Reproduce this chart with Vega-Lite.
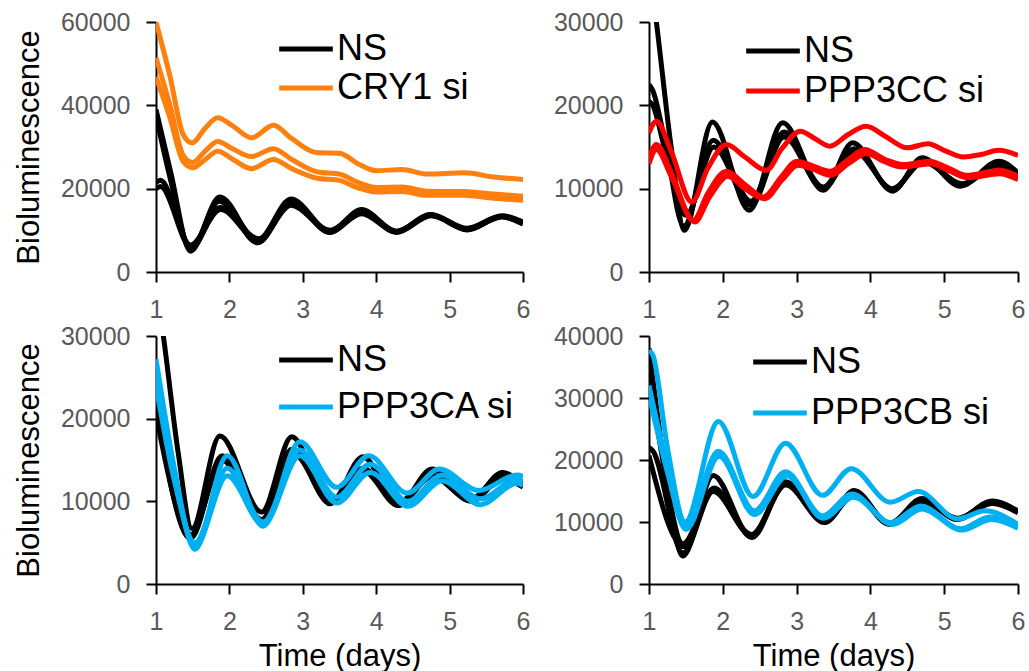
{
"$schema": "https://vega.github.io/schema/vega-lite/v6.json",
"padding": {"left": 13, "top": 10, "right": 0, "bottom": 0},
"config": {
  "font": "Liberation Sans",
  "view": {"stroke": null},
  "axis": {"domainColor": "#000000", "domainWidth": 2, "tickColor": "#000000", "tickWidth": 2, "tickSize": 10, "grid": false, "labelColor": "#595959", "labelFontSize": 25, "labelFont": "Liberation Sans", "titleFont": "Liberation Sans", "titleFontSize": 31, "titleFontWeight": "normal", "titleColor": "#000000", "labelOverlap": false, "labelBound": false, "labelFlush": false},
  "axisX": {"labelPadding": 15, "titlePadding": 7},
  "axisY": {"labelPadding": 16, "titlePadding": 15},
  "legend": {"symbolType": "M-1.45,0H1.45", "symbolSize": 1369, "symbolStrokeWidth": 5, "labelFontSize": 36, "labelColor": "#000000", "labelFont": "Liberation Sans", "labelOffset": 10, "padding": 0, "labelLimit": 0}
},
"data": {"values": [
{"p":"A","g":"NS","r":"n1","t":1,"v":39000},{"p":"A","g":"NS","r":"n1","t":1.2,"v":24000},{"p":"A","g":"NS","r":"n1","t":1.47,"v":5000},{"p":"A","g":"NS","r":"n1","t":1.87,"v":18000},{"p":"A","g":"NS","r":"n1","t":2.38,"v":7500},{"p":"A","g":"NS","r":"n1","t":2.84,"v":17500},{"p":"A","g":"NS","r":"n1","t":3.37,"v":9800},{"p":"A","g":"NS","r":"n1","t":3.8,"v":15000},{"p":"A","g":"NS","r":"n1","t":4.28,"v":9700},{"p":"A","g":"NS","r":"n1","t":4.74,"v":13800},{"p":"A","g":"NS","r":"n1","t":5.24,"v":10200},{"p":"A","g":"NS","r":"n1","t":5.71,"v":13400},{"p":"A","g":"NS","r":"n1","t":6,"v":11800},
{"p":"A","g":"NS","r":"n2","t":1,"v":21500},{"p":"A","g":"NS","r":"n2","t":1.06,"v":22000},{"p":"A","g":"NS","r":"n2","t":1.47,"v":6500},{"p":"A","g":"NS","r":"n2","t":1.88,"v":15000},{"p":"A","g":"NS","r":"n2","t":2.4,"v":7500},{"p":"A","g":"NS","r":"n2","t":2.85,"v":16500},{"p":"A","g":"NS","r":"n2","t":3.37,"v":9600},{"p":"A","g":"NS","r":"n2","t":3.8,"v":14000},{"p":"A","g":"NS","r":"n2","t":4.28,"v":9500},{"p":"A","g":"NS","r":"n2","t":4.75,"v":13500},{"p":"A","g":"NS","r":"n2","t":5.24,"v":10300},{"p":"A","g":"NS","r":"n2","t":5.72,"v":13200},{"p":"A","g":"NS","r":"n2","t":6,"v":11500},
{"p":"A","g":"NS","r":"n3","t":1,"v":20000},{"p":"A","g":"NS","r":"n3","t":1.06,"v":20500},{"p":"A","g":"NS","r":"n3","t":1.48,"v":5800},{"p":"A","g":"NS","r":"n3","t":1.87,"v":15500},{"p":"A","g":"NS","r":"n3","t":2.4,"v":8000},{"p":"A","g":"NS","r":"n3","t":2.84,"v":16000},{"p":"A","g":"NS","r":"n3","t":3.37,"v":10000},{"p":"A","g":"NS","r":"n3","t":3.8,"v":14500},{"p":"A","g":"NS","r":"n3","t":4.28,"v":9800},{"p":"A","g":"NS","r":"n3","t":4.74,"v":13800},{"p":"A","g":"NS","r":"n3","t":5.24,"v":10500},{"p":"A","g":"NS","r":"n3","t":5.71,"v":13500},{"p":"A","g":"NS","r":"n3","t":6,"v":12000},
{"p":"A","g":"NS","r":"n4","t":1,"v":37500},{"p":"A","g":"NS","r":"n4","t":1.2,"v":22000},{"p":"A","g":"NS","r":"n4","t":1.47,"v":5500},{"p":"A","g":"NS","r":"n4","t":1.86,"v":17000},{"p":"A","g":"NS","r":"n4","t":2.39,"v":7000},{"p":"A","g":"NS","r":"n4","t":2.83,"v":17000},{"p":"A","g":"NS","r":"n4","t":3.37,"v":9500},{"p":"A","g":"NS","r":"n4","t":3.8,"v":14800},{"p":"A","g":"NS","r":"n4","t":4.28,"v":9600},{"p":"A","g":"NS","r":"n4","t":4.74,"v":13600},{"p":"A","g":"NS","r":"n4","t":5.24,"v":10100},{"p":"A","g":"NS","r":"n4","t":5.71,"v":13300},{"p":"A","g":"NS","r":"n4","t":6,"v":11600},
{"p":"A","g":"CRY1 si","r":"c1","t":1,"v":60000},{"p":"A","g":"CRY1 si","r":"c1","t":1.19,"v":47000},{"p":"A","g":"CRY1 si","r":"c1","t":1.37,"v":33000},{"p":"A","g":"CRY1 si","r":"c1","t":1.49,"v":31000},{"p":"A","g":"CRY1 si","r":"c1","t":1.67,"v":34500},{"p":"A","g":"CRY1 si","r":"c1","t":1.84,"v":37000},{"p":"A","g":"CRY1 si","r":"c1","t":2.05,"v":35000},{"p":"A","g":"CRY1 si","r":"c1","t":2.3,"v":32200},{"p":"A","g":"CRY1 si","r":"c1","t":2.6,"v":35200},{"p":"A","g":"CRY1 si","r":"c1","t":2.85,"v":32000},{"p":"A","g":"CRY1 si","r":"c1","t":3.2,"v":28600},{"p":"A","g":"CRY1 si","r":"c1","t":3.5,"v":28500},{"p":"A","g":"CRY1 si","r":"c1","t":3.75,"v":26000},{"p":"A","g":"CRY1 si","r":"c1","t":4,"v":24300},{"p":"A","g":"CRY1 si","r":"c1","t":4.35,"v":24600},{"p":"A","g":"CRY1 si","r":"c1","t":4.7,"v":23500},{"p":"A","g":"CRY1 si","r":"c1","t":5.2,"v":23800},{"p":"A","g":"CRY1 si","r":"c1","t":5.6,"v":22800},{"p":"A","g":"CRY1 si","r":"c1","t":6,"v":22200},
{"p":"A","g":"CRY1 si","r":"c2","t":1,"v":51400},{"p":"A","g":"CRY1 si","r":"c2","t":1.19,"v":40000},{"p":"A","g":"CRY1 si","r":"c2","t":1.37,"v":28000},{"p":"A","g":"CRY1 si","r":"c2","t":1.5,"v":26300},{"p":"A","g":"CRY1 si","r":"c2","t":1.67,"v":29000},{"p":"A","g":"CRY1 si","r":"c2","t":1.84,"v":31300},{"p":"A","g":"CRY1 si","r":"c2","t":2.05,"v":29500},{"p":"A","g":"CRY1 si","r":"c2","t":2.3,"v":27700},{"p":"A","g":"CRY1 si","r":"c2","t":2.6,"v":29600},{"p":"A","g":"CRY1 si","r":"c2","t":2.85,"v":27000},{"p":"A","g":"CRY1 si","r":"c2","t":3.2,"v":24000},{"p":"A","g":"CRY1 si","r":"c2","t":3.5,"v":23500},{"p":"A","g":"CRY1 si","r":"c2","t":3.75,"v":21500},{"p":"A","g":"CRY1 si","r":"c2","t":4,"v":20300},{"p":"A","g":"CRY1 si","r":"c2","t":4.35,"v":20400},{"p":"A","g":"CRY1 si","r":"c2","t":4.7,"v":19400},{"p":"A","g":"CRY1 si","r":"c2","t":5.2,"v":19300},{"p":"A","g":"CRY1 si","r":"c2","t":5.6,"v":18700},{"p":"A","g":"CRY1 si","r":"c2","t":6,"v":18200},
{"p":"A","g":"CRY1 si","r":"c3","t":1,"v":46800},{"p":"A","g":"CRY1 si","r":"c3","t":1.19,"v":37000},{"p":"A","g":"CRY1 si","r":"c3","t":1.37,"v":26500},{"p":"A","g":"CRY1 si","r":"c3","t":1.5,"v":25000},{"p":"A","g":"CRY1 si","r":"c3","t":1.67,"v":27000},{"p":"A","g":"CRY1 si","r":"c3","t":1.84,"v":29000},{"p":"A","g":"CRY1 si","r":"c3","t":2.05,"v":27000},{"p":"A","g":"CRY1 si","r":"c3","t":2.3,"v":24800},{"p":"A","g":"CRY1 si","r":"c3","t":2.6,"v":27000},{"p":"A","g":"CRY1 si","r":"c3","t":2.85,"v":24800},{"p":"A","g":"CRY1 si","r":"c3","t":3.2,"v":22500},{"p":"A","g":"CRY1 si","r":"c3","t":3.5,"v":22000},{"p":"A","g":"CRY1 si","r":"c3","t":3.75,"v":20200},{"p":"A","g":"CRY1 si","r":"c3","t":4,"v":19200},{"p":"A","g":"CRY1 si","r":"c3","t":4.35,"v":19300},{"p":"A","g":"CRY1 si","r":"c3","t":4.7,"v":18400},{"p":"A","g":"CRY1 si","r":"c3","t":5.2,"v":18400},{"p":"A","g":"CRY1 si","r":"c3","t":5.6,"v":17700},{"p":"A","g":"CRY1 si","r":"c3","t":6,"v":17200},

{"p":"B","g":"NS","r":"n1","t":1,"v":37000},{"p":"B","g":"NS","r":"n1","t":1.1,"v":30000},{"p":"B","g":"NS","r":"n1","t":1.3,"v":15000},{"p":"B","g":"NS","r":"n1","t":1.48,"v":5000},{"p":"B","g":"NS","r":"n1","t":1.86,"v":18000},{"p":"B","g":"NS","r":"n1","t":2.36,"v":7400},{"p":"B","g":"NS","r":"n1","t":2.81,"v":17900},{"p":"B","g":"NS","r":"n1","t":3.36,"v":9800},{"p":"B","g":"NS","r":"n1","t":3.76,"v":15500},{"p":"B","g":"NS","r":"n1","t":4.3,"v":9700},{"p":"B","g":"NS","r":"n1","t":4.7,"v":13700},{"p":"B","g":"NS","r":"n1","t":5.22,"v":10300},{"p":"B","g":"NS","r":"n1","t":5.74,"v":13300},{"p":"B","g":"NS","r":"n1","t":6,"v":11900},
{"p":"B","g":"NS","r":"n2","t":1,"v":22500},{"p":"B","g":"NS","r":"n2","t":1.05,"v":21800},{"p":"B","g":"NS","r":"n2","t":1.22,"v":15500},{"p":"B","g":"NS","r":"n2","t":1.47,"v":5500},{"p":"B","g":"NS","r":"n2","t":1.87,"v":15800},{"p":"B","g":"NS","r":"n2","t":2.38,"v":8500},{"p":"B","g":"NS","r":"n2","t":2.83,"v":16800},{"p":"B","g":"NS","r":"n2","t":3.36,"v":10200},{"p":"B","g":"NS","r":"n2","t":3.78,"v":14800},{"p":"B","g":"NS","r":"n2","t":4.3,"v":9900},{"p":"B","g":"NS","r":"n2","t":4.72,"v":13400},{"p":"B","g":"NS","r":"n2","t":5.24,"v":10500},{"p":"B","g":"NS","r":"n2","t":5.74,"v":13000},{"p":"B","g":"NS","r":"n2","t":6,"v":11600},
{"p":"B","g":"NS","r":"n3","t":1,"v":20500},{"p":"B","g":"NS","r":"n3","t":1.05,"v":20000},{"p":"B","g":"NS","r":"n3","t":1.22,"v":14500},{"p":"B","g":"NS","r":"n3","t":1.5,"v":6800},{"p":"B","g":"NS","r":"n3","t":1.88,"v":15000},{"p":"B","g":"NS","r":"n3","t":2.38,"v":8000},{"p":"B","g":"NS","r":"n3","t":2.83,"v":16200},{"p":"B","g":"NS","r":"n3","t":3.36,"v":10000},{"p":"B","g":"NS","r":"n3","t":3.78,"v":14500},{"p":"B","g":"NS","r":"n3","t":4.3,"v":10000},{"p":"B","g":"NS","r":"n3","t":4.72,"v":13200},{"p":"B","g":"NS","r":"n3","t":5.24,"v":10600},{"p":"B","g":"NS","r":"n3","t":5.74,"v":12800},{"p":"B","g":"NS","r":"n3","t":6,"v":11500},
{"p":"B","g":"PPP3CC si","r":"c1","t":1,"v":16700},{"p":"B","g":"PPP3CC si","r":"c1","t":1.1,"v":18100},{"p":"B","g":"PPP3CC si","r":"c1","t":1.3,"v":14500},{"p":"B","g":"PPP3CC si","r":"c1","t":1.58,"v":8400},{"p":"B","g":"PPP3CC si","r":"c1","t":1.8,"v":12500},{"p":"B","g":"PPP3CC si","r":"c1","t":2.05,"v":15300},{"p":"B","g":"PPP3CC si","r":"c1","t":2.3,"v":13800},{"p":"B","g":"PPP3CC si","r":"c1","t":2.59,"v":12200},{"p":"B","g":"PPP3CC si","r":"c1","t":2.8,"v":14800},{"p":"B","g":"PPP3CC si","r":"c1","t":3.05,"v":16900},{"p":"B","g":"PPP3CC si","r":"c1","t":3.25,"v":16000},{"p":"B","g":"PPP3CC si","r":"c1","t":3.45,"v":15100},{"p":"B","g":"PPP3CC si","r":"c1","t":3.7,"v":16500},{"p":"B","g":"PPP3CC si","r":"c1","t":3.94,"v":17500},{"p":"B","g":"PPP3CC si","r":"c1","t":4.2,"v":16300},{"p":"B","g":"PPP3CC si","r":"c1","t":4.5,"v":14900},{"p":"B","g":"PPP3CC si","r":"c1","t":4.78,"v":15400},{"p":"B","g":"PPP3CC si","r":"c1","t":5,"v":14600},{"p":"B","g":"PPP3CC si","r":"c1","t":5.26,"v":13800},{"p":"B","g":"PPP3CC si","r":"c1","t":5.5,"v":14100},{"p":"B","g":"PPP3CC si","r":"c1","t":5.74,"v":14600},{"p":"B","g":"PPP3CC si","r":"c1","t":6,"v":14000},
{"p":"B","g":"PPP3CC si","r":"c2","t":1,"v":13700},{"p":"B","g":"PPP3CC si","r":"c2","t":1.1,"v":15300},{"p":"B","g":"PPP3CC si","r":"c2","t":1.3,"v":12000},{"p":"B","g":"PPP3CC si","r":"c2","t":1.6,"v":6200},{"p":"B","g":"PPP3CC si","r":"c2","t":1.8,"v":9500},{"p":"B","g":"PPP3CC si","r":"c2","t":2.05,"v":12100},{"p":"B","g":"PPP3CC si","r":"c2","t":2.3,"v":10500},{"p":"B","g":"PPP3CC si","r":"c2","t":2.55,"v":9000},{"p":"B","g":"PPP3CC si","r":"c2","t":2.8,"v":11500},{"p":"B","g":"PPP3CC si","r":"c2","t":3,"v":13300},{"p":"B","g":"PPP3CC si","r":"c2","t":3.2,"v":12800},{"p":"B","g":"PPP3CC si","r":"c2","t":3.45,"v":12100},{"p":"B","g":"PPP3CC si","r":"c2","t":3.7,"v":13500},{"p":"B","g":"PPP3CC si","r":"c2","t":3.92,"v":14700},{"p":"B","g":"PPP3CC si","r":"c2","t":4.2,"v":13500},{"p":"B","g":"PPP3CC si","r":"c2","t":4.44,"v":12900},{"p":"B","g":"PPP3CC si","r":"c2","t":4.8,"v":13300},{"p":"B","g":"PPP3CC si","r":"c2","t":5.05,"v":12500},{"p":"B","g":"PPP3CC si","r":"c2","t":5.3,"v":11600},{"p":"B","g":"PPP3CC si","r":"c2","t":5.75,"v":12200},{"p":"B","g":"PPP3CC si","r":"c2","t":6,"v":11500},
{"p":"B","g":"PPP3CC si","r":"c3","t":1,"v":13000},{"p":"B","g":"PPP3CC si","r":"c3","t":1.1,"v":14700},{"p":"B","g":"PPP3CC si","r":"c3","t":1.3,"v":11500},{"p":"B","g":"PPP3CC si","r":"c3","t":1.62,"v":6000},{"p":"B","g":"PPP3CC si","r":"c3","t":1.82,"v":9000},{"p":"B","g":"PPP3CC si","r":"c3","t":2.07,"v":11500},{"p":"B","g":"PPP3CC si","r":"c3","t":2.3,"v":10000},{"p":"B","g":"PPP3CC si","r":"c3","t":2.57,"v":8800},{"p":"B","g":"PPP3CC si","r":"c3","t":2.8,"v":11000},{"p":"B","g":"PPP3CC si","r":"c3","t":3.02,"v":12800},{"p":"B","g":"PPP3CC si","r":"c3","t":3.2,"v":12400},{"p":"B","g":"PPP3CC si","r":"c3","t":3.47,"v":11600},{"p":"B","g":"PPP3CC si","r":"c3","t":3.7,"v":13000},{"p":"B","g":"PPP3CC si","r":"c3","t":3.95,"v":14200},{"p":"B","g":"PPP3CC si","r":"c3","t":4.2,"v":13200},{"p":"B","g":"PPP3CC si","r":"c3","t":4.44,"v":12600},{"p":"B","g":"PPP3CC si","r":"c3","t":4.82,"v":13000},{"p":"B","g":"PPP3CC si","r":"c3","t":5.05,"v":12200},{"p":"B","g":"PPP3CC si","r":"c3","t":5.32,"v":11300},{"p":"B","g":"PPP3CC si","r":"c3","t":5.75,"v":11800},{"p":"B","g":"PPP3CC si","r":"c3","t":6,"v":11100},

{"p":"C","g":"NS","r":"n1","t":1,"v":36000},{"p":"C","g":"NS","r":"n1","t":1.1,"v":30000},{"p":"C","g":"NS","r":"n1","t":1.3,"v":16000},{"p":"C","g":"NS","r":"n1","t":1.49,"v":6700},{"p":"C","g":"NS","r":"n1","t":1.87,"v":17900},{"p":"C","g":"NS","r":"n1","t":2.44,"v":8700},{"p":"C","g":"NS","r":"n1","t":2.85,"v":17800},{"p":"C","g":"NS","r":"n1","t":3.37,"v":9700},{"p":"C","g":"NS","r":"n1","t":3.82,"v":15400},{"p":"C","g":"NS","r":"n1","t":4.3,"v":9500},{"p":"C","g":"NS","r":"n1","t":4.76,"v":13900},{"p":"C","g":"NS","r":"n1","t":5.3,"v":10300},{"p":"C","g":"NS","r":"n1","t":5.72,"v":13500},{"p":"C","g":"NS","r":"n1","t":6,"v":11900},
{"p":"C","g":"NS","r":"n2","t":1,"v":22000},{"p":"C","g":"NS","r":"n2","t":1.47,"v":5500},{"p":"C","g":"NS","r":"n2","t":1.9,"v":15500},{"p":"C","g":"NS","r":"n2","t":2.44,"v":7800},{"p":"C","g":"NS","r":"n2","t":2.85,"v":16300},{"p":"C","g":"NS","r":"n2","t":3.37,"v":9800},{"p":"C","g":"NS","r":"n2","t":3.82,"v":13700},{"p":"C","g":"NS","r":"n2","t":4.3,"v":9500},{"p":"C","g":"NS","r":"n2","t":4.76,"v":13000},{"p":"C","g":"NS","r":"n2","t":5.3,"v":10000},{"p":"C","g":"NS","r":"n2","t":5.72,"v":12800},{"p":"C","g":"NS","r":"n2","t":6,"v":11700},
{"p":"C","g":"NS","r":"n3","t":1,"v":20500},{"p":"C","g":"NS","r":"n3","t":1.48,"v":6000},{"p":"C","g":"NS","r":"n3","t":1.9,"v":15000},{"p":"C","g":"NS","r":"n3","t":2.44,"v":7500},{"p":"C","g":"NS","r":"n3","t":2.87,"v":15800},{"p":"C","g":"NS","r":"n3","t":3.38,"v":10000},{"p":"C","g":"NS","r":"n3","t":3.82,"v":14000},{"p":"C","g":"NS","r":"n3","t":4.3,"v":9800},{"p":"C","g":"NS","r":"n3","t":4.76,"v":13200},{"p":"C","g":"NS","r":"n3","t":5.3,"v":10200},{"p":"C","g":"NS","r":"n3","t":5.72,"v":13000},{"p":"C","g":"NS","r":"n3","t":6,"v":12000},
{"p":"C","g":"PPP3CA si","r":"c1","t":1,"v":27200},{"p":"C","g":"PPP3CA si","r":"c1","t":1.25,"v":14000},{"p":"C","g":"PPP3CA si","r":"c1","t":1.53,"v":4200},{"p":"C","g":"PPP3CA si","r":"c1","t":1.97,"v":15500},{"p":"C","g":"PPP3CA si","r":"c1","t":2.46,"v":7000},{"p":"C","g":"PPP3CA si","r":"c1","t":2.96,"v":17200},{"p":"C","g":"PPP3CA si","r":"c1","t":3.46,"v":11700},{"p":"C","g":"PPP3CA si","r":"c1","t":3.9,"v":15500},{"p":"C","g":"PPP3CA si","r":"c1","t":4.42,"v":11000},{"p":"C","g":"PPP3CA si","r":"c1","t":4.86,"v":13900},{"p":"C","g":"PPP3CA si","r":"c1","t":5.4,"v":11300},{"p":"C","g":"PPP3CA si","r":"c1","t":5.92,"v":13200},{"p":"C","g":"PPP3CA si","r":"c1","t":6,"v":13000},
{"p":"C","g":"PPP3CA si","r":"c2","t":1,"v":25200},{"p":"C","g":"PPP3CA si","r":"c2","t":1.25,"v":13000},{"p":"C","g":"PPP3CA si","r":"c2","t":1.53,"v":4500},{"p":"C","g":"PPP3CA si","r":"c2","t":1.97,"v":13100},{"p":"C","g":"PPP3CA si","r":"c2","t":2.46,"v":7200},{"p":"C","g":"PPP3CA si","r":"c2","t":2.96,"v":15500},{"p":"C","g":"PPP3CA si","r":"c2","t":3.46,"v":9800},{"p":"C","g":"PPP3CA si","r":"c2","t":3.92,"v":13500},{"p":"C","g":"PPP3CA si","r":"c2","t":4.43,"v":9400},{"p":"C","g":"PPP3CA si","r":"c2","t":4.9,"v":12500},{"p":"C","g":"PPP3CA si","r":"c2","t":5.42,"v":9600},{"p":"C","g":"PPP3CA si","r":"c2","t":5.92,"v":12200},{"p":"C","g":"PPP3CA si","r":"c2","t":6,"v":11900},
{"p":"C","g":"PPP3CA si","r":"c3","t":1,"v":24000},{"p":"C","g":"PPP3CA si","r":"c3","t":1.25,"v":12500},{"p":"C","g":"PPP3CA si","r":"c3","t":1.53,"v":5000},{"p":"C","g":"PPP3CA si","r":"c3","t":1.97,"v":14000},{"p":"C","g":"PPP3CA si","r":"c3","t":2.46,"v":7500},{"p":"C","g":"PPP3CA si","r":"c3","t":2.96,"v":16200},{"p":"C","g":"PPP3CA si","r":"c3","t":3.46,"v":10500},{"p":"C","g":"PPP3CA si","r":"c3","t":3.92,"v":14500},{"p":"C","g":"PPP3CA si","r":"c3","t":4.43,"v":10000},{"p":"C","g":"PPP3CA si","r":"c3","t":4.9,"v":13200},{"p":"C","g":"PPP3CA si","r":"c3","t":5.42,"v":10300},{"p":"C","g":"PPP3CA si","r":"c3","t":5.92,"v":12700},{"p":"C","g":"PPP3CA si","r":"c3","t":6,"v":12400},

{"p":"D","g":"NS","r":"n1","t":1,"v":38000},{"p":"D","g":"NS","r":"n1","t":1.2,"v":20000},{"p":"D","g":"NS","r":"n1","t":1.46,"v":4500},{"p":"D","g":"NS","r":"n1","t":1.87,"v":17500},{"p":"D","g":"NS","r":"n1","t":2.39,"v":7500},{"p":"D","g":"NS","r":"n1","t":2.85,"v":16500},{"p":"D","g":"NS","r":"n1","t":3.38,"v":10000},{"p":"D","g":"NS","r":"n1","t":3.78,"v":15100},{"p":"D","g":"NS","r":"n1","t":4.26,"v":9700},{"p":"D","g":"NS","r":"n1","t":4.7,"v":13800},{"p":"D","g":"NS","r":"n1","t":5.18,"v":10500},{"p":"D","g":"NS","r":"n1","t":5.65,"v":13400},{"p":"D","g":"NS","r":"n1","t":6,"v":11700},
{"p":"D","g":"NS","r":"n2","t":1,"v":35000},{"p":"D","g":"NS","r":"n2","t":1.2,"v":19000},{"p":"D","g":"NS","r":"n2","t":1.46,"v":6500},{"p":"D","g":"NS","r":"n2","t":1.87,"v":15000},{"p":"D","g":"NS","r":"n2","t":2.39,"v":8000},{"p":"D","g":"NS","r":"n2","t":2.85,"v":16000},{"p":"D","g":"NS","r":"n2","t":3.38,"v":10200},{"p":"D","g":"NS","r":"n2","t":3.78,"v":14300},{"p":"D","g":"NS","r":"n2","t":4.26,"v":9800},{"p":"D","g":"NS","r":"n2","t":4.7,"v":13300},{"p":"D","g":"NS","r":"n2","t":5.18,"v":10600},{"p":"D","g":"NS","r":"n2","t":5.65,"v":13000},{"p":"D","g":"NS","r":"n2","t":6,"v":11500},
{"p":"D","g":"NS","r":"n3","t":1,"v":22000},{"p":"D","g":"NS","r":"n3","t":1.05,"v":21500},{"p":"D","g":"NS","r":"n3","t":1.46,"v":5000},{"p":"D","g":"NS","r":"n3","t":1.87,"v":14900},{"p":"D","g":"NS","r":"n3","t":2.39,"v":7800},{"p":"D","g":"NS","r":"n3","t":2.85,"v":16000},{"p":"D","g":"NS","r":"n3","t":3.38,"v":9900},{"p":"D","g":"NS","r":"n3","t":3.78,"v":14500},{"p":"D","g":"NS","r":"n3","t":4.26,"v":9600},{"p":"D","g":"NS","r":"n3","t":4.7,"v":13500},{"p":"D","g":"NS","r":"n3","t":5.18,"v":10400},{"p":"D","g":"NS","r":"n3","t":5.65,"v":13200},{"p":"D","g":"NS","r":"n3","t":6,"v":11600},
{"p":"D","g":"NS","r":"n4","t":1,"v":20700},{"p":"D","g":"NS","r":"n4","t":1.47,"v":6000},{"p":"D","g":"NS","r":"n4","t":1.88,"v":15500},{"p":"D","g":"NS","r":"n4","t":2.4,"v":7600},{"p":"D","g":"NS","r":"n4","t":2.85,"v":16300},{"p":"D","g":"NS","r":"n4","t":3.38,"v":10100},{"p":"D","g":"NS","r":"n4","t":3.78,"v":14800},{"p":"D","g":"NS","r":"n4","t":4.26,"v":9700},{"p":"D","g":"NS","r":"n4","t":4.7,"v":13600},{"p":"D","g":"NS","r":"n4","t":5.18,"v":10500},{"p":"D","g":"NS","r":"n4","t":5.65,"v":13300},{"p":"D","g":"NS","r":"n4","t":6,"v":11800},
{"p":"D","g":"PPP3CB si","r":"c1","t":1,"v":37600},{"p":"D","g":"PPP3CB si","r":"c1","t":1.05,"v":37000},{"p":"D","g":"PPP3CB si","r":"c1","t":1.25,"v":22000},{"p":"D","g":"PPP3CB si","r":"c1","t":1.49,"v":10000},{"p":"D","g":"PPP3CB si","r":"c1","t":1.94,"v":26200},{"p":"D","g":"PPP3CB si","r":"c1","t":2.41,"v":14100},{"p":"D","g":"PPP3CB si","r":"c1","t":2.85,"v":22700},{"p":"D","g":"PPP3CB si","r":"c1","t":3.35,"v":14300},{"p":"D","g":"PPP3CB si","r":"c1","t":3.74,"v":18600},{"p":"D","g":"PPP3CB si","r":"c1","t":4.27,"v":13200},{"p":"D","g":"PPP3CB si","r":"c1","t":4.65,"v":14900},{"p":"D","g":"PPP3CB si","r":"c1","t":5.18,"v":10500},{"p":"D","g":"PPP3CB si","r":"c1","t":5.55,"v":11800},{"p":"D","g":"PPP3CB si","r":"c1","t":6,"v":9600},
{"p":"D","g":"PPP3CB si","r":"c2","t":1,"v":32000},{"p":"D","g":"PPP3CB si","r":"c2","t":1.25,"v":19000},{"p":"D","g":"PPP3CB si","r":"c2","t":1.5,"v":9400},{"p":"D","g":"PPP3CB si","r":"c2","t":1.94,"v":21400},{"p":"D","g":"PPP3CB si","r":"c2","t":2.43,"v":11800},{"p":"D","g":"PPP3CB si","r":"c2","t":2.85,"v":18100},{"p":"D","g":"PPP3CB si","r":"c2","t":3.35,"v":11000},{"p":"D","g":"PPP3CB si","r":"c2","t":3.75,"v":14500},{"p":"D","g":"PPP3CB si","r":"c2","t":4.28,"v":9900},{"p":"D","g":"PPP3CB si","r":"c2","t":4.68,"v":12600},{"p":"D","g":"PPP3CB si","r":"c2","t":5.22,"v":8900},{"p":"D","g":"PPP3CB si","r":"c2","t":5.62,"v":10800},{"p":"D","g":"PPP3CB si","r":"c2","t":6,"v":9300},
{"p":"D","g":"PPP3CB si","r":"c3","t":1,"v":30500},{"p":"D","g":"PPP3CB si","r":"c3","t":1.25,"v":18000},{"p":"D","g":"PPP3CB si","r":"c3","t":1.5,"v":8800},{"p":"D","g":"PPP3CB si","r":"c3","t":1.95,"v":20600},{"p":"D","g":"PPP3CB si","r":"c3","t":2.43,"v":11200},{"p":"D","g":"PPP3CB si","r":"c3","t":2.87,"v":17400},{"p":"D","g":"PPP3CB si","r":"c3","t":3.36,"v":10600},{"p":"D","g":"PPP3CB si","r":"c3","t":3.77,"v":14000},{"p":"D","g":"PPP3CB si","r":"c3","t":4.3,"v":9600},{"p":"D","g":"PPP3CB si","r":"c3","t":4.7,"v":12100},{"p":"D","g":"PPP3CB si","r":"c3","t":5.24,"v":8700},{"p":"D","g":"PPP3CB si","r":"c3","t":5.64,"v":10400},{"p":"D","g":"PPP3CB si","r":"c3","t":6,"v":9000}
]},
"concat": [
 {"width": 367, "height": 250,
  "transform": [{"filter": "datum.p === 'A'"}],
  "mark": {"type": "line", "interpolate": "monotone", "strokeWidth": 5, "clip": true},
  "encoding": {
   "x": {"field": "t", "type": "quantitative", "scale": {"domain": [1, 6], "nice": false, "zero": false}, "axis": {"values": [1, 2, 3, 4, 5, 6], "format": "d", "title": null}},
   "y": {"field": "v", "type": "quantitative", "scale": {"domain": [0, 60000], "nice": false}, "axis": {"values": [0, 20000, 40000, 60000], "format": "d", "title": "Bioluminescence"}},
   "color": {"field": "g", "type": "nominal", "scale": {"domain": ["NS", "CRY1 si"], "range": ["#000000", "#FF7F0F"]}, "legend": {"title": null, "orient": "none", "legendX": 129, "legendY": 6, "rowPadding": 0}},
   "detail": {"field": "r", "type": "nominal"}
  }},
 {"width": 369, "height": 250,
  "transform": [{"filter": "datum.p === 'B'"}],
  "mark": {"type": "line", "interpolate": "monotone", "strokeWidth": 5, "clip": true},
  "encoding": {
   "x": {"field": "t", "type": "quantitative", "scale": {"domain": [1, 6], "nice": false, "zero": false}, "axis": {"values": [1, 2, 3, 4, 5, 6], "format": "d", "title": null}},
   "y": {"field": "v", "type": "quantitative", "scale": {"domain": [0, 30000], "nice": false}, "axis": {"values": [0, 10000, 20000, 30000], "format": "d", "title": null}},
   "color": {"field": "g", "type": "nominal", "scale": {"domain": ["NS", "PPP3CC si"], "range": ["#000000", "#FF0000"]}, "legend": {"title": null, "orient": "none", "legendX": 103, "legendY": 8, "rowPadding": 1}},
   "detail": {"field": "r", "type": "nominal"}
  }},
 {"width": 367, "height": 248,
  "transform": [{"filter": "datum.p === 'C'"}],
  "mark": {"type": "line", "interpolate": "monotone", "strokeWidth": 5, "clip": true},
  "encoding": {
   "x": {"field": "t", "type": "quantitative", "scale": {"domain": [1, 6], "nice": false, "zero": false}, "axis": {"values": [1, 2, 3, 4, 5, 6], "format": "d", "title": "Time (days)"}},
   "y": {"field": "v", "type": "quantitative", "scale": {"domain": [0, 30000], "nice": false}, "axis": {"values": [0, 10000, 20000, 30000], "format": "d", "title": "Bioluminescence"}},
   "color": {"field": "g", "type": "nominal", "scale": {"domain": ["NS", "PPP3CA si"], "range": ["#000000", "#00B0F0"]}, "legend": {"title": null, "orient": "none", "legendX": 129, "legendY": 3, "rowPadding": 8}},
   "detail": {"field": "r", "type": "nominal"}
  }},
 {"width": 369, "height": 248,
  "transform": [{"filter": "datum.p === 'D'"}],
  "mark": {"type": "line", "interpolate": "monotone", "strokeWidth": 5, "clip": true},
  "encoding": {
   "x": {"field": "t", "type": "quantitative", "scale": {"domain": [1, 6], "nice": false, "zero": false}, "axis": {"values": [1, 2, 3, 4, 5, 6], "format": "d", "title": "Time (days)"}},
   "y": {"field": "v", "type": "quantitative", "scale": {"domain": [0, 40000], "nice": false}, "axis": {"values": [0, 10000, 20000, 30000, 40000], "format": "d", "title": null}},
   "color": {"field": "g", "type": "nominal", "scale": {"domain": ["NS", "PPP3CB si"], "range": ["#000000", "#00B0F0"]}, "legend": {"title": null, "orient": "none", "legendX": 110, "legendY": 5, "rowPadding": 12}},
   "detail": {"field": "r", "type": "nominal"}
  }}
],
"columns": 2,
"spacing": {"row": 64, "column": 126},
"bounds": "flush",
"resolve": {"scale": {"color": "independent", "x": "independent", "y": "independent"}, "legend": {"color": "independent"}, "axis": {"x": "independent", "y": "independent"}}
}
